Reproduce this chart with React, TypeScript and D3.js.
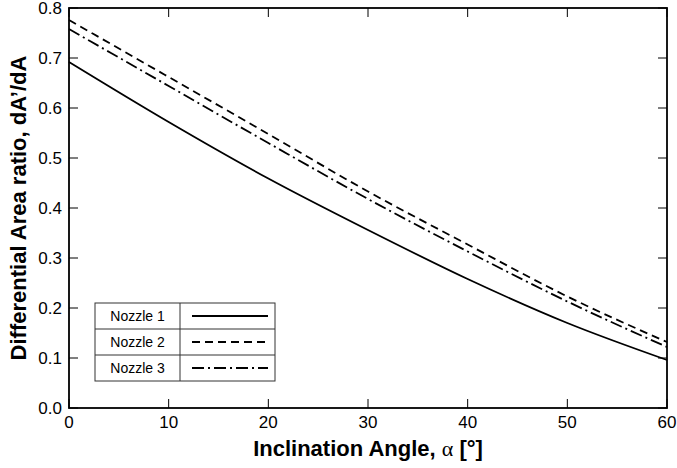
import React from "react";
import * as d3 from "d3";

const angles = [0, 10, 20, 30, 40, 50, 60];
const nozzle1 = [0.692, 0.572, 0.459, 0.356, 0.258, 0.17, 0.096];
const nozzle2 = [0.776, 0.662, 0.548, 0.433, 0.327, 0.223, 0.132];
const nozzle3 = [0.758, 0.644, 0.53, 0.418, 0.313, 0.213, 0.122];
const seriesNames = ["Nozzle 1", "Nozzle 2", "Nozzle 3"];
const xTicks = [0, 10, 20, 30, 40, 50, 60];
const yTicks = [0, 0.1, 0.2, 0.3, 0.4, 0.5, 0.6, 0.7, 0.8];

const W = 677, H = 468;
const L = 69, R = 667, T = 8, B = 408;
const FONT = "'Liberation Sans', Arial, Helvetica, sans-serif";

export default function App() {
  const x = d3.scaleLinear().domain([0, 60]).range([L, R]);
  const y = d3.scaleLinear().domain([0, 0.8]).range([B, T]);
  const series = [nozzle1, nozzle2, nozzle3];
  const dashes = ["none", "8,5", "12,4,2,4"];
  const line = d3
    .line<[number, number]>()
    .x((d) => x(d[0]))
    .y((d) => y(d[1]))
    .curve(d3.curveMonotoneX);
  const tl = 9;

  const legX = 95, legY = 303, legW = 180, rowH = 26, legDiv = 180;

  return (
    <svg
      width={W}
      height={H}
      style={{ position: "absolute", left: 0, top: 0, background: "#fff" }}
      fontFamily={FONT}
    >
      <rect x={0} y={0} width={W} height={H} fill="#fff" />
      {series.map((s, i) => (
        <path
          key={i}
          d={line(angles.map((a, j) => [a, s[j]] as [number, number])) || ""}
          fill="none"
          stroke="#000"
          strokeWidth={1.8}
          strokeDasharray={dashes[i]}
        />
      ))}
      {/* ticks */}
      {xTicks.map((t) => (
        <g key={"x" + t}>
          <line x1={x(t)} x2={x(t)} y1={B} y2={B - tl} stroke="#000" strokeWidth={1} />
          <line x1={x(t)} x2={x(t)} y1={T} y2={T + tl} stroke="#000" strokeWidth={1} />
          <text x={x(t)} y={428} textAnchor="middle" fontSize={17}>
            {t}
          </text>
        </g>
      ))}
      {yTicks.map((t) => (
        <g key={"y" + t}>
          <line x1={L} x2={L + tl} y1={y(t)} y2={y(t)} stroke="#000" strokeWidth={1} />
          <line x1={R} x2={R - tl} y1={y(t)} y2={y(t)} stroke="#000" strokeWidth={1} />
          <text x={62} y={y(t) + 6} textAnchor="end" fontSize={17}>
            {t.toFixed(1)}
          </text>
        </g>
      ))}
      <rect x={L} y={T} width={R - L} height={B - T} fill="none" stroke="#000" strokeWidth={1.8} />
      {/* legend */}
      <g>
        <rect x={legX} y={legY} width={legW} height={rowH * 3} fill="#fff" stroke="#333" strokeWidth={1} />
        <line x1={legDiv} x2={legDiv} y1={legY} y2={legY + rowH * 3} stroke="#333" strokeWidth={1} />
        {seriesNames.map((n, i) => (
          <g key={n}>
            {i > 0 && (
              <line x1={legX} x2={legX + legW} y1={legY + rowH * i} y2={legY + rowH * i} stroke="#333" strokeWidth={1} />
            )}
            <text x={(legX + legDiv) / 2} y={legY + rowH * i + rowH / 2 + 5} textAnchor="middle" fontSize={14}>
              {n}
            </text>
            <line
              x1={192}
              x2={268}
              y1={legY + rowH * i + rowH / 2}
              y2={legY + rowH * i + rowH / 2}
              stroke="#000"
              strokeWidth={1.8}
              strokeDasharray={dashes[i]}
            />
          </g>
        ))}
      </g>
      {/* axis titles */}
      <text x={(L + R) / 2} y={456} textAnchor="middle" fontSize={22} fontWeight="bold">
        Inclination Angle,{" "}
        <tspan fontFamily="'Liberation Serif', 'DejaVu Serif', serif" fontWeight="normal">α</tspan> [°]
      </text>
      <text
        transform={`translate(26,${(T + B) / 2}) rotate(-90)`}
        textAnchor="middle"
        fontSize={22}
        fontWeight="bold"
      >
        Differential Area ratio, dA’/dA
      </text>
    </svg>
  );
}
